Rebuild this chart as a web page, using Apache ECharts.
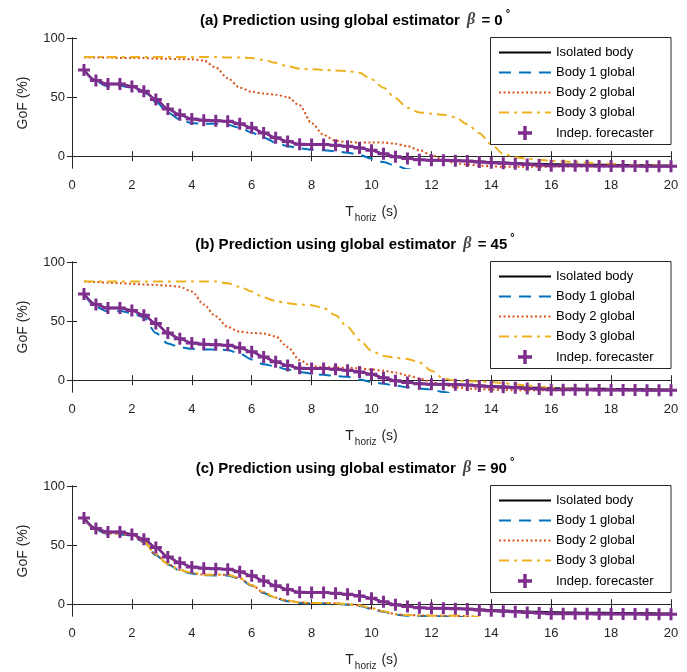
<!DOCTYPE html>
<html><head><meta charset="utf-8">
<script src="https://cdn.jsdelivr.net/npm/echarts@6/dist/echarts.min.js"></script>
<style>html,body{margin:0;padding:0;background:#fff}#c{width:687px;height:672px}</style>
</head><body><div id="c"></div>
<script>
// ---- data ----
const tHoriz = [0.4,0.8,1.2,1.6,2.0,2.4,2.8,3.2,3.6,4.0,4.4,4.8,5.2,5.6,6.0,6.4,6.8,7.2,7.6,8.0,8.4,8.8,9.2,9.6,10.0,10.4,10.8,11.2,11.6,12.0,12.4,12.8,13.2,13.6,14.0,14.4,14.8,15.2,15.6,16.0,16.4,16.8,17.2,17.6,18.0,18.4,18.8,19.2,19.6,20.0];
const xTickValues = [0,2,4,6,8,10,12,14,16,18,20];
const yTickValues = [0,50,100];
const seriesNames = ['Isolated body','Body 1 global','Body 2 global','Body 3 global','Indep. forecaster'];
const panelLabels = ['(a)','(b)','(c)'];
const betaValues = ['0','45','90'];

const isolatedBody = [73,64,61,61,59,55,48,40,35,31.5,30.5,30,29.5,27.5,24,19.7,15.5,12.5,10,9.8,9.8,9.3,8.4,7,5,2,-0.5,-2,-3,-3.3,-3.5,-3.7,-4,-4.6,-5,-5.4,-5.8,-6.2,-6.5,-6.8,-7,-7.1,-7.2,-7.3,-7.4,-7.5,-7.6,-7.7,-7.8,-7.9];
const indepForecaster = [73,64,61,61,59,55,48,40,35,31.5,30.5,30,29.5,27.5,24,19.7,15.5,12.5,10,9.8,9.8,9.3,8.4,7,5,2,-0.5,-2,-3,-3.5,-3.5,-3.8,-4,-5,-5.5,-6,-6.5,-7,-7.5,-8,-8,-8.1,-8.2,-8.3,-8.3,-8.4,-8.4,-8.5,-8.5,-8.5];

// panel (a) beta = 0
const aBody1 = [73,63,59,59.5,58,54,46,37,31,28,27.5,27.5,26.5,24,20,15.5,11.5,8.5,6.5,5.5,5,4.2,3,1,-2,-5,-8,-11,-13,null,null,null,null,null,null,null,null,null,null,null,null,null,null,null,null,null,null,null,null,null];
const aBody2 = [83.5,83.5,83.5,83,83,83,82.5,82.5,82,82,81,75,66,58,54.5,53,52,50,43,28,18,13,12,11.5,11.5,11.5,10.5,8.5,5,1,-3,-6,-7,-8,-8.5,-9,-9,-9,-9,-8.8,-8.8,-8.7,-8.7,-8.6,-8.6,-8.6,-8.5,-8.5,-8.5,-8.5];
const aBody3 = [84,84,84,84,84,84,84,84,84,84,84,84,83.5,83.5,83,81.5,79,76,74,73.5,73,72.5,72,70.5,65,58,49,41,37,36,35,33,27,19.5,10,2,-1,-2,-3,-4,-4.5,-5,-5.5,-6,-6.5,-7,-7.3,-7.5,-7.8,-8];

// panel (b) beta = 45
const bBody1 = [73,62,58,58.5,57,53,40,31,28,26.5,26,26,25.5,22.5,17.5,13.5,11.5,9,7,5.5,4.5,3.5,2.8,0.5,-1.5,-3,-4.5,-6,-7,-8,-10,-12,null,null,null,null,null,null,null,null,null,null,null,null,null,null,null,null,null,null];
const bBody2 = [83.5,83,82.5,82,81.5,81,80.5,80,79,75,64,54,45,41,40,39.5,37,28,17,12,11,10.7,10.5,10,9,8,6.5,4,1.5,-1.5,-4,-6,-7,-7.5,-8,-8.3,-8.5,-8.5,-8.5,-8.5,-8.5,-8.5,-8.5,-8.5,-8.5,-8.5,-8.5,-8.5,-8.5,-8.5];
const bBody3 = [83.5,83.5,83.5,83.5,83.5,83.5,83.5,83.5,83.5,83.5,83.5,83.5,82,79,75,70,67,65,64,63.5,61,55,45,34,25,20.5,19,18,15,8,1.5,-0.5,-1,-1,-1.5,-2.5,-3.5,-4.5,-5.5,-6.5,-7,-7.3,-7.5,-7.7,-7.8,-7.9,-8,-8,-8,-8];

// panel (c) beta = 90
const cBody1 = [72.5,62.5,59.5,59,58,52.5,41.5,33.5,28.5,26,24.5,24.3,24.3,21.5,15.5,9.5,5,2.5,1,0.5,0.5,0.3,-0.5,-1.5,-4,-6.5,-9,-9.7,-10,-10.2,-10.3,-10.5,-11,-12,null,null,null,null,null,null,null,null,null,null,null,null,null,null,null,null];
const cBody2 = [72.5,63,60,59.5,58.5,53,42,34,29,26.5,25,24.8,24.8,22,16,10,5.5,3,1.5,1,1,0.8,0,-1,-3.5,-6,-8.5,-9.2,-9.5,-9.7,-9.7,-9.8,-10.2,-11,null,null,null,null,null,null,null,null,null,null,null,null,null,null,null,null];
const cBody3 = [72.5,63,60,59.5,58.5,53,42,34,29,26.5,25,24.8,24.8,22,16,10,5.5,3,1.5,1,1,0.8,0,-1,-3.5,-6,-8.5,-9.2,-9.5,-9.7,-9.7,-9.8,-10.2,-11,null,null,null,null,null,null,null,null,null,null,null,null,null,null,null,null];

const panelData = [
  [isolatedBody, aBody1, aBody2, aBody3, indepForecaster],
  [isolatedBody, bBody1, bBody2, bBody3, indepForecaster],
  [isolatedBody, cBody1, cBody2, cBody3, indepForecaster]
];

// ---- layout / style ----
const gridTops = [38, 262, 486];
const gridH = 130, gridL = 72, gridW = 599;
const axisColor = '#262626';
const font = 'Liberation Sans, Arial, Helvetica, sans-serif';
const plusPath = 'path://M4.5,0H7.5V4.5H12V7.5H7.5V12H4.5V7.5H0V4.5H4.5Z';
const styles = [
  {color:'#000000', lineStyle:{width:2, type:'solid'}},
  {color:'#0072BD', lineStyle:{width:2, type:[12,8]}},
  {color:'#D95319', lineStyle:{width:2, type:[2,2.5]}},
  {color:'#EDB120', lineStyle:{width:2, type:[10,5,3,5]}},
  {color:'#7E2F8E', lineStyle:{width:2.5, type:'solid'}}
];

const grids = [], xAxes = [], yAxes = [], series = [], titles = [], legends = [], graphics = [];
gridTops.forEach((top, p) => {
  grids.push({left: gridL, top: top, width: gridW, height: gridH, containLabel: false});
  const common = {min: 0, max: 20, interval: 2, gridIndex: p,
    axisLine: {show: true, lineStyle: {color: axisColor, width: 1}},
    axisTick: {show: true, inside: true, length: 5, lineStyle: {color: axisColor}},
    splitLine: {show: false}};
  xAxes.push(Object.assign({}, common, {type: 'value', position: 'bottom',
    axisLabel: {show: true, color: axisColor, fontSize: 13, fontFamily: font, margin: 11},
    name: '{t|T}{s|horiz}{t| (s)}', nameLocation: 'middle', nameGap: 37,
    nameTextStyle: {rich: {
      t: {fontSize: 14, fontFamily: font, color: axisColor, lineHeight: 30, verticalAlign: 'top', padding:[0,0,0,0]},
      s: {fontSize: 10, fontFamily: font, color: axisColor, lineHeight: 30, verticalAlign: 'top', padding:[8,1,0,1]}
    }}}));
  xAxes.push(Object.assign({}, common, {type: 'value', position: 'top', axisLabel: {show: false}}));
  const ycommon = {type: 'value', min: -10, max: 100, gridIndex: p,
    axisLine: {show: true, lineStyle: {color: axisColor, width: 1}},
    axisTick: {show: true, inside: true, length: 5, customValues: yTickValues, lineStyle: {color: axisColor}},
    splitLine: {show: false}};
  yAxes.push(Object.assign({}, ycommon, {position: 'left',
    axisLabel: {show: true, color: axisColor, fontSize: 13, fontFamily: font, margin: 7, customValues: yTickValues},
    name: 'GoF (%)', nameLocation: 'middle', nameGap: 42,
    nameTextStyle: {color: axisColor, fontSize: 14, fontFamily: font}}));
  yAxes.push(Object.assign({}, ycommon, {position: 'right', axisLabel: {show: false}}));

  panelData[p].forEach((arr, k) => {
    const s = {
      type: 'line', name: seriesNames[k], xAxisIndex: 2*p, yAxisIndex: 2*p,
      data: tHoriz.map((x, i) => [x, arr[i]]),
      color: styles[k].color,
      lineStyle: Object.assign({color: styles[k].color}, styles[k].lineStyle),
      smooth: 0.3, smoothMonotone: 'x', clip: true, connectNulls: false,
      symbol: 'none', animation: false, z: 2 + k*0.01
    };
    if (k === 4) {
      s.symbol = plusPath; s.symbolSize = 12; s.showSymbol = true;
      s.itemStyle = {color: styles[k].color};
    }
    series.push(s);
  });

  titles.push({
    text: '{b|' + panelLabels[p] + ' Prediction using global estimator }{g|β}{b| = ' + betaValues[p] + '}{d|°}',
    left: 350, top: top - 35, textAlign: 'center',
    textStyle: {rich: {
      b: {fontFamily: font, fontWeight: 'bold', fontSize: 15, color: '#000', lineHeight: 20, verticalAlign: 'bottom'},
      g: {fontFamily: 'Liberation Serif, DejaVu Serif, serif', fontStyle: 'italic', fontSize: 16, color: '#444', lineHeight: 20, verticalAlign: 'bottom', padding:[0,2,0,3]},
      d: {fontFamily: font, fontWeight: 'bold', fontSize: 11, color: '#000', lineHeight: 12, verticalAlign: 'top', padding:[0,0,0,3]}
    }}
  });

  graphics.push({type: 'rect', shape: {x: 490.5, y: top - 0.5, width: 180.5, height: 107},
    style: {fill: '#ffffff', stroke: axisColor, lineWidth: 1}, z: 50});

  legends.push({
    orient: 'vertical', left: 493, top: top + 3, z: 60, selectedMode: false,
    itemWidth: 52, itemHeight: 14, itemGap: 7,
    textStyle: {fontSize: 13, fontFamily: font, color: '#000'},
    data: seriesNames.map((n, k) => k === 4
      ? {name: n, icon: plusPath, itemStyle: {color: styles[4].color, opacity: 1}}
      : {name: n, itemStyle: {opacity: 0}})
  });
});

const chart = echarts.init(document.getElementById('c'), null, {renderer: 'canvas'});
chart.setOption({
  animation: false,
  backgroundColor: '#ffffff',
  title: titles, grid: grids, xAxis: xAxes, yAxis: yAxes, series: series, legend: legends,
  graphic: {elements: graphics}
});
</script></body></html>
